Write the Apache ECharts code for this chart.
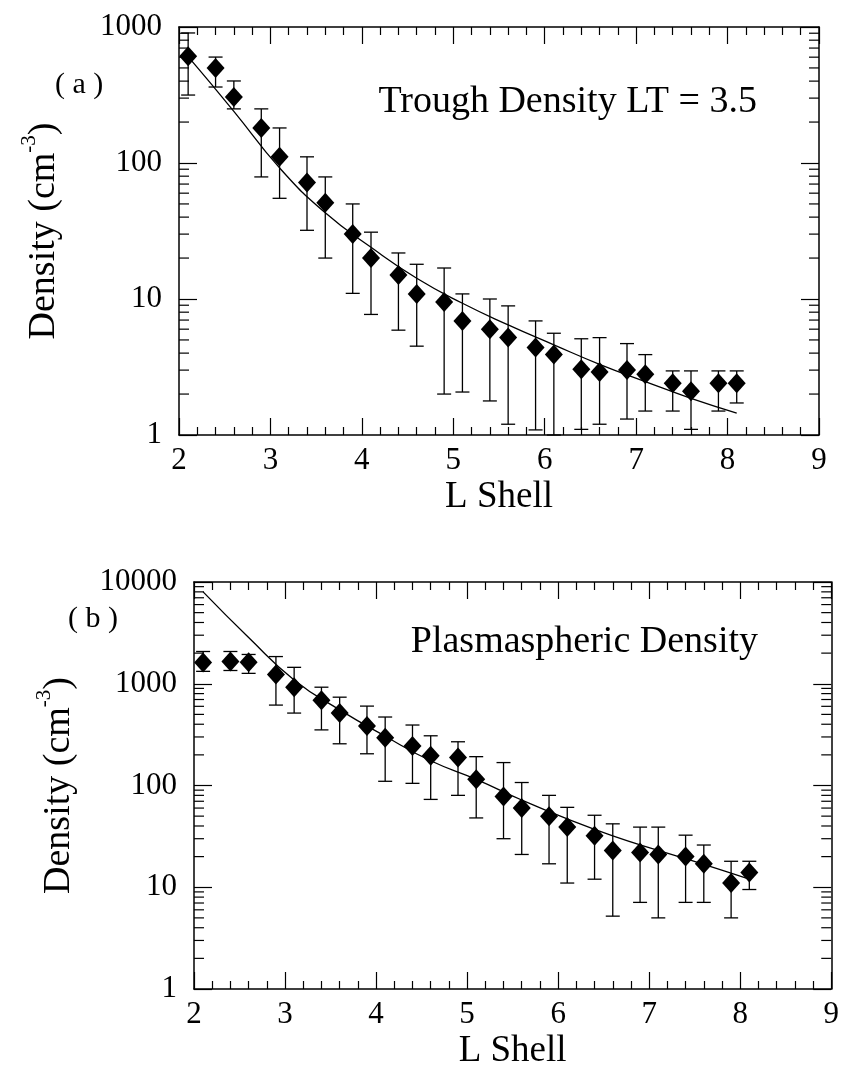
<!DOCTYPE html>
<html>
<head>
<meta charset="utf-8">
<script src="https://cdn.jsdelivr.net/npm/echarts@6/dist/echarts.min.js"></script>
<style>
  html, body { margin: 0; padding: 0; background: #fff; }
  #chart { width: 842px; height: 1071px; }
</style>
</head>
<body>
<div id="chart"></div>
<script>
// L shell of every measured point (same for both panels)
var lShell = [2.1, 2.4, 2.6, 2.9, 3.1, 3.4, 3.6, 3.9, 4.1, 4.4, 4.6, 4.9, 5.1, 5.4, 5.6, 5.9, 6.1, 6.4, 6.6, 6.9, 7.1, 7.4, 7.6, 7.9, 8.1]

// (a) trough density LT = 3.5
var troughDensity = [610, 500, 306, 181, 111, 72, 51, 30, 20, 15, 10.9, 9.5, 6.9, 6.0, 5.2, 4.4, 3.9, 3.05, 2.9, 3.0, 2.8, 2.4, 2.1, 2.4, 2.4]
var troughLow = [316, 362, 250, 79, 55, 32, 20, 11, 7.7, 5.9, 4.5, 2.0, 2.07, 1.78, 1.2, 1.09, 1.0, 1.1, 1.2, 1.31, 1.5, 1.5, 1.1, 1.5, 1.72]
var troughHigh = [904, 601, 401, 250, 181, 111, 79, 50, 31, 21.8, 18, 16.9, 10.9, 10, 8.9, 6.9, 5.6, 5.1, 5.2, 4.7, 3.9, 2.96, 2.96, 2.96, 2.96]
var troughFitL = [2.1, 2.6, 3.1, 3.6, 4.1, 4.6, 5.1, 5.6, 6.1, 6.6, 7.1, 7.6, 8.1]
var troughFit = [605, 240, 92, 43, 24, 14.2, 9.3, 6.45, 4.6, 3.31, 2.47, 1.86, 1.45]

// (b) plasmaspheric density
var plasmaDensity = [1620, 1650, 1630, 1230, 925, 690, 515, 385, 294, 245, 196, 188, 115, 78, 60, 50, 39, 32, 23, 22, 21, 20, 17, 11, 14]
var plasmaLow = [1324, 1350, 1265, 617, 515, 352, 257, 205, 110, 105, 73, 80, 48, 30, 21, 17, 11, 12, 5.2, 7.1, 5.0, 7.1, 7.1, 5.0, 9.5]
var plasmaHigh = [2075, 2075, 1940, 1850, 1450, 925, 738, 603, 471, 393, 308, 269, 192, 168, 107, 80, 61, 51, 42, 39, 39, 32.5, 26, 18, 18]
var plasmaFitL = [2.1, 2.6, 3.1, 3.6, 4.1, 4.6, 5.1, 5.6, 6.1, 6.6, 7.1, 7.6, 8.1]
var plasmaFit = [8000, 2850, 1090, 553, 305, 175, 115, 72, 47, 32, 23, 16.8, 12]

// axis ticks
var xMin = 2
var xMax = 9
var decadesA = [1, 10, 100]
var decadesB = [1, 10, 100, 1000]
var minorSteps = [2, 3, 4, 5, 6, 7, 8, 9]

var font = 'Liberation Serif'
var black = '#000'

function zip2 (a, b) {
  return a.map(function (v, i) { return [v, b[i]] })
}
function zip3 (a, b, c) {
  return a.map(function (v, i) { return [v, b[i], c[i]] })
}
function minorValues (decades) {
  var out = []
  decades.forEach(function (d) {
    minorSteps.forEach(function (m) { out.push([xMin, d * m]) })
  })
  return out
}

function errorBarItem (params, api) {
  var x = api.value(0)
  var lo = api.coord([x, api.value(1)])
  var hi = api.coord([x, api.value(2)])
  var w = 7
  var st = { stroke: black, lineWidth: 1.3 }
  return {
    type: 'group',
    children: [
      { type: 'line', shape: { x1: lo[0], y1: lo[1], x2: hi[0], y2: hi[1] }, style: st },
      { type: 'line', shape: { x1: hi[0] - w, y1: hi[1], x2: hi[0] + w, y2: hi[1] }, style: st },
      { type: 'line', shape: { x1: lo[0] - w, y1: lo[1], x2: lo[0] + w, y2: lo[1] }, style: st }
    ]
  }
}

// log minor ticks (2..9 in each decade) on the left and right frame
function minorTickItem (params, api) {
  var v = api.value(1)
  var l = api.coord([xMin, v])
  var r = api.coord([xMax, v])
  var len = 10
  var st = { stroke: black, lineWidth: 1.2 }
  return {
    type: 'group',
    children: [
      { type: 'line', shape: { x1: l[0], y1: l[1], x2: l[0] + len, y2: l[1] }, style: st },
      { type: 'line', shape: { x1: r[0] - len, y1: r[1], x2: r[0], y2: r[1] }, style: st }
    ]
  }
}

function xAxisPair (gridIndex) {
  var base = {
    type: 'value',
    gridIndex: gridIndex,
    min: xMin,
    max: xMax,
    interval: 1,
    axisLine: { lineStyle: { color: black, width: 1.5 } },
    axisTick: { inside: true, length: 17, lineStyle: { color: black, width: 1.2 } },
    minorTick: { show: true, splitNumber: 5, length: 8, lineStyle: { color: black, width: 1.2 } },
    splitLine: { show: false }
  }
  var bottom = Object.assign({}, base, {
    position: 'bottom',
    name: 'L Shell',
    nameLocation: 'middle',
    nameGap: 44,
    nameTextStyle: { fontFamily: font, fontSize: 37, color: black },
    axisLabel: { fontFamily: font, fontSize: 31, color: black, margin: 10, showMinLabel: true, showMaxLabel: true }
  })
  var top = Object.assign({}, base, { position: 'top', axisLabel: { show: false } })
  return [bottom, top]
}

function yAxisPair (gridIndex, yMax) {
  var base = {
    type: 'log',
    logBase: 10,
    gridIndex: gridIndex,
    min: 1,
    max: yMax,
    axisLine: { lineStyle: { color: black, width: 1.5 } },
    axisTick: { inside: true, length: 18, lineStyle: { color: black, width: 1.2 } },
    splitLine: { show: false }
  }
  var left = Object.assign({}, base, {
    position: 'left',
    name: '{a|Density (cm}{s|-3}{a|)}',
    nameLocation: 'middle',
    nameRotate: 90,
    nameGap: 110,
    nameTextStyle: {
      rich: {
        a: { fontFamily: font, fontSize: 38, color: black, lineHeight: 50 },
        s: { fontFamily: font, fontSize: 21, color: black, lineHeight: 14, verticalAlign: 'top' }
      }
    },
    axisLabel: {
      fontFamily: font, fontSize: 31, color: black, margin: 17,
      formatter: function (v) { return String(Math.round(v)) }
    }
  })
  var right = Object.assign({}, base, { position: 'right', axisLabel: { show: false } })
  return [left, right]
}

var myChart = echarts.init(document.getElementById('chart'), null, { renderer: 'canvas' })

var option = {
  backgroundColor: '#fff',
  animation: false,
  grid: [
    { left: 179, top: 27, width: 640, height: 408 },
    { left: 194, top: 582, width: 638, height: 410 }
  ],
  xAxis: xAxisPair(0).concat(xAxisPair(1)),
  yAxis: yAxisPair(0, 1000).concat(yAxisPair(1, 10000)),
  graphic: [
    { type: 'text', left: 55, top: 70, style: { text: '( a )', fontFamily: font, fontSize: 30, fill: black } },
    { type: 'text', left: 68, top: 604, style: { text: '( b )', fontFamily: font, fontSize: 30, fill: black } },
    { type: 'text', x: 757, y: 102, style: { text: 'Trough Density LT = 3.5', fontFamily: font, fontSize: 38, fill: black, align: 'right', verticalAlign: 'middle' } },
    { type: 'text', x: 758, y: 642, style: { text: 'Plasmaspheric Density', fontFamily: font, fontSize: 38, fill: black, align: 'right', verticalAlign: 'middle' } }
  ],
  series: [
    // panel (a)
    {
      type: 'custom', xAxisIndex: 0, yAxisIndex: 0,
      renderItem: minorTickItem, data: minorValues(decadesA), silent: true
    },
    {
      type: 'custom', xAxisIndex: 0, yAxisIndex: 0,
      renderItem: errorBarItem, encode: { x: 0, y: [1, 2] },
      data: zip3(lShell, troughLow, troughHigh), z: 3
    },
    {
      type: 'line', xAxisIndex: 0, yAxisIndex: 0,
      data: zip2(troughFitL, troughFit), smooth: 0.5,
      symbol: 'none', lineStyle: { color: black, width: 1.3 }, z: 3
    },
    {
      type: 'scatter', xAxisIndex: 0, yAxisIndex: 0,
      data: zip2(lShell, troughDensity), symbol: 'diamond', symbolSize: [18, 20],
      itemStyle: { color: black, opacity: 1 }, z: 4
    },
    // panel (b)
    {
      type: 'custom', xAxisIndex: 2, yAxisIndex: 2,
      renderItem: minorTickItem, data: minorValues(decadesB), silent: true
    },
    {
      type: 'custom', xAxisIndex: 2, yAxisIndex: 2,
      renderItem: errorBarItem, encode: { x: 0, y: [1, 2] },
      data: zip3(lShell, plasmaLow, plasmaHigh), z: 3
    },
    {
      type: 'line', xAxisIndex: 2, yAxisIndex: 2,
      data: zip2(plasmaFitL, plasmaFit), smooth: 0.5,
      symbol: 'none', lineStyle: { color: black, width: 1.3 }, z: 3
    },
    {
      type: 'scatter', xAxisIndex: 2, yAxisIndex: 2,
      data: zip2(lShell, plasmaDensity), symbol: 'diamond', symbolSize: [18, 20],
      itemStyle: { color: black, opacity: 1 }, z: 4
    }
  ]
}

myChart.setOption(option)
</script>
</body>
</html>
